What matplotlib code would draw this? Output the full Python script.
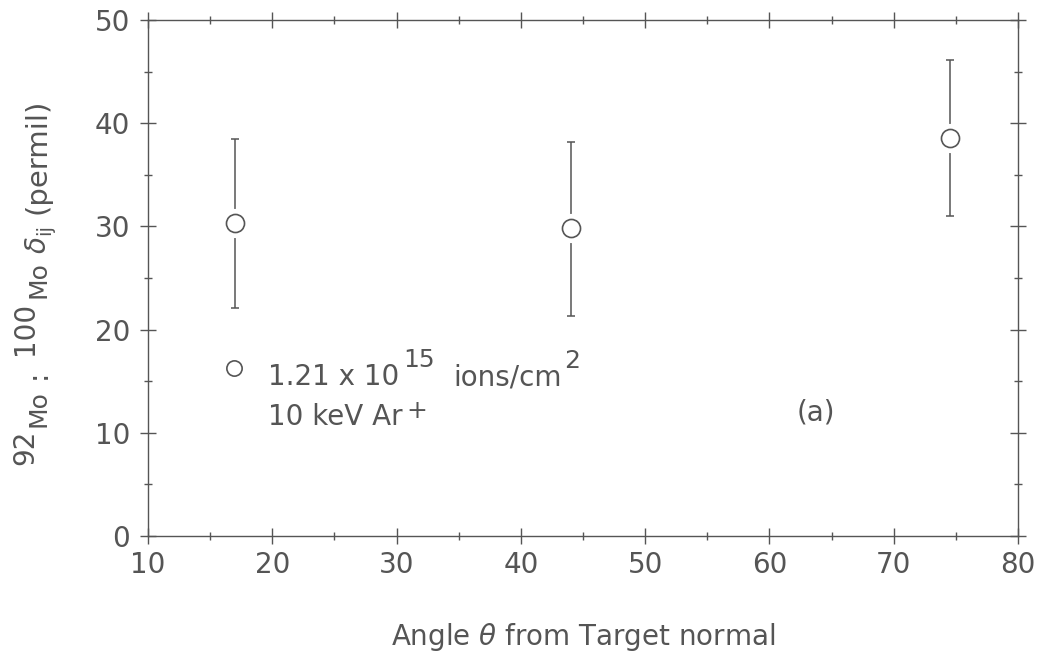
import matplotlib
matplotlib.use("Agg")
import matplotlib.pyplot as plt
from matplotlib.lines import Line2D
from matplotlib.ticker import MultipleLocator

# ---- data ----
angles = [17, 44, 74.5]
delta = [30.3, 29.8, 38.6]
err_low = [8.2, 8.45, 7.6]
err_high = [8.2, 8.4, 7.5]

xticks = [10, 20, 30, 40, 50, 60, 70, 80]
yticks = [0, 10, 20, 30, 40, 50]

col = "#555555"
plt.rcParams["mathtext.fontset"] = "dejavusans"
plt.rcParams["font.family"] = ["DejaVu Sans"]

W, H = 1050, 657
fig = plt.figure(figsize=(W / 100, H / 100), dpi=100)
L, R, T, B = 148, 1018, 20, 536
ax = fig.add_axes([L / W, 1 - B / H, (R - L) / W, (B - T) / H])
renderer = fig.canvas.get_renderer()


def pix(x, y):
    return (x / W, 1 - y / H)


# error bars with a small white halo around each marker
ax.errorbar(angles, delta, yerr=[err_low, err_high], fmt="none",
            ecolor=col, elinewidth=1.1, capsize=3.2, capthick=1.1, zorder=2)
ax.plot(angles, delta, "o", ms=20, mfc="white", mec="white", zorder=3)
ax.plot(angles, delta, "o", ms=13, mfc="white", mec=col, mew=1.2, zorder=4)

ax.set_xlim(10, 80)
ax.set_ylim(0, 50)
ax.set_xticks(xticks)
ax.set_yticks(yticks)
ax.xaxis.set_minor_locator(MultipleLocator(5))
ax.yaxis.set_minor_locator(MultipleLocator(5))
ax.tick_params(which="both", direction="inout", top=True, right=True,
               colors=col, labelcolor=col, labelsize=20, width=1.0)
ax.tick_params(which="major", length=11.5)
ax.tick_params(axis="x", which="major", pad=5)
ax.tick_params(axis="y", which="major", pad=7)
ax.tick_params(which="minor", length=6)
for s in ax.spines.values():
    s.set_color(col)
    s.set_linewidth(1.0)

# x label
xl = ax.set_xlabel(r"Angle $\theta$ from Target normal", fontsize=20, color=col)
ax.xaxis.set_label_coords(0.5, (B - 645) / (B - T))
xl.set_va("baseline")


def chain_h(pieces, x0, y0):
    """pieces: (text, fontsize, raise_px, gap_before_px)"""
    x = x0
    for txt, fs, rise, gap in pieces:
        x += gap
        t = fig.text(*pix(x, y0 - rise), txt, ha="left", va="baseline",
                     fontsize=fs, color=col)
        x += t.get_window_extent(renderer).width


def chain_v(pieces, bx0, y0):
    """vertical (rotated 90) chain going upward; rise shifts baseline left"""
    y = y0
    for txt, fs, rise, gap in pieces:
        y -= gap
        t = fig.text(*pix(bx0 - rise, y), txt, rotation=90, rotation_mode="anchor",
                     ha="left", va="baseline", fontsize=fs, color=col)
        y -= t.get_window_extent(renderer).height


# y label built from pieces (superscript mass numbers, subscripts)
chain_v([
    ("92", 20, 13, 0),
    ("Mo", 18, 0, 3),
    (":", 20, 0, 11),
    ("100", 20, 13, 14),
    ("Mo", 18, 0, 4),
    (r"$\delta$", 20, 0, 7),
    ("ij", 14, -4, 2),
    ("(permil)", 21, 0, 10),
], 46, 465)

# legend marker
handles = [Line2D([], [], marker="o", ls="none", ms=11, mfc="white", mec=col, mew=1.2)]
ax.legend(handles, [""], loc="center", bbox_to_anchor=pix(234, 369),
          bbox_transform=fig.transFigure, frameon=False, handlelength=1.0,
          handletextpad=0, borderpad=0, borderaxespad=0)

# legend text pieces
chain_h([
    ("1.21 x 10", 20, 0, 0),
    ("15", 18, 18, 4),
    ("ions/cm", 20, 0, 18),
    ("2", 18, 17, 3),
], 268, 385)
chain_h([
    ("10 keV Ar", 20, 0, 0),
    ("+", 18, 7, 4),
], 268, 425)

fig.text(*pix(816, 413), "(a)", ha="center", va="center", fontsize=20, color=col)

fig.savefig("out.png", dpi=100)
